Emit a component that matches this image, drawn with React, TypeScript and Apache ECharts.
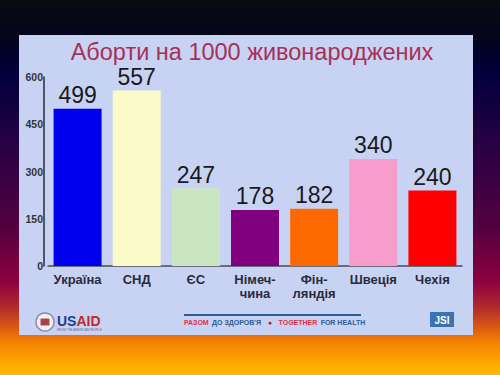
import React, { useEffect, useRef } from "react";
import * as echarts from "echarts";

const categories = ["Україна", "СНД", "ЄС", "Німеч-\nчина", "Фін-\nляндія", "Швеція", "Чехія"];
const values = [499, 557, 247, 178, 182, 340, 240];
const barColors = ["#0000ee", "#fbfbc9", "#c9e6c1", "#800080", "#ff6a00", "#f89ccb", "#ff0000"];
const titleText = "Аборти на 1000 живонароджених";
const yTicks = { min: 0, max: 600, interval: 150 };

const FONT = "Liberation Sans, Arial, sans-serif";

export default function App() {
  const ref = useRef<HTMLDivElement>(null);
  useEffect(() => {
    if (!ref.current) return;
    const chart = echarts.init(ref.current, null, { renderer: "svg" });
    const option: any = {
      animation: false,
      textStyle: { fontFamily: FONT },
      graphic: [
        {
          type: "rect",
          z: -20,
          silent: true,
          shape: { x: 0, y: 0, width: 500, height: 375 },
          style: {
            fill: new echarts.graphic.LinearGradient(0, 0, 0, 1, [
              { offset: 0, color: "#0a0a12" },
              { offset: 0.1, color: "#04041c" },
              { offset: 0.19, color: "#00003c" },
              { offset: 0.4, color: "#2a0044" },
              { offset: 0.6, color: "#52003f" },
              { offset: 0.75, color: "#8c0040" },
              { offset: 0.82, color: "#b02a2c" },
              { offset: 0.88, color: "#e06010" },
              { offset: 0.92, color: "#f88800" },
              { offset: 1, color: "#ffbc00" },
            ]),
          },
        },
        {
          type: "rect",
          z: -19,
          silent: true,
          shape: { x: 19, y: 35, width: 454, height: 300 },
          style: { fill: "#c8d3f3" },
        },
        {
          type: "text",
          z: 10,
          x: 252,
          y: 52,
          style: {
            text: titleText,
            fill: "#a83058",
            font: `23.5px ${FONT}`,
            align: "center",
            verticalAlign: "middle",
          },
        },
        // USAID logo
        {
          type: "circle",
          z: 10,
          shape: { cx: 45, cy: 322, r: 9 },
          style: { fill: "#eef0f6", stroke: "#8a8aa0", lineWidth: 1.5 },
        },
        {
          type: "rect",
          z: 11,
          shape: { x: 40, y: 318, width: 10, height: 8 },
          style: { fill: "#b04048", stroke: "#ffffff", lineWidth: 1 },
        },
        {
          type: "text",
          z: 10,
          x: 57,
          y: 321,
          style: {
            text: "{a|US}{b|AID}",
            verticalAlign: "middle",
            rich: {
              a: { fill: "#1c3c96", font: `bold 14px ${FONT}` },
              b: { fill: "#c0282d", font: `bold 14px ${FONT}` },
            },
          },
        },
        {
          type: "text",
          z: 10,
          x: 57,
          y: 330,
          style: {
            text: "FROM THE AMERICAN PEOPLE",
            fill: "#6a6a8a",
            font: `3px ${FONT}`,
            verticalAlign: "middle",
          },
        },
        // middle strip
        {
          type: "line",
          z: 10,
          shape: { x1: 184, y1: 315, x2: 361, y2: 315 },
          style: { stroke: "#2b5d9a", lineWidth: 2 },
        },
        {
          type: "text",
          z: 10,
          x: 184,
          y: 322,
          style: {
            text: "{r|РАЗОМ} {b|ДО ЗДОРОВ'Я}  {i|●}  {r|TOGETHER} {b|FOR HEALTH}",
            verticalAlign: "middle",
            rich: {
              r: { fill: "#e0304a", font: `bold 7px ${FONT}` },
              b: { fill: "#2b5d9a", font: `bold 7px ${FONT}` },
              i: { fill: "#b02040", font: `bold 7px ${FONT}` },
            },
          },
        },
        // JSI
        {
          type: "rect",
          z: 10,
          shape: { x: 430, y: 312, width: 24, height: 15 },
          style: { fill: "#3a72b2" },
        },
        {
          type: "text",
          z: 11,
          x: 442,
          y: 320,
          style: {
            text: "JSI",
            fill: "#ffffff",
            font: `bold 10px ${FONT}`,
            align: "center",
            verticalAlign: "middle",
          },
        },
      ],
      grid: { left: 48, right: 38, top: 77, bottom: 109 },
      xAxis: {
        type: "category",
        data: categories,
        axisLine: { lineStyle: { color: "#4a4a5a", width: 1.5 } },
        axisTick: { show: false },
        axisLabel: {
          interval: 0,
          margin: 6,
          color: "#2a2a3a",
          fontWeight: "bold",
          fontSize: 13,
          lineHeight: 14,
          fontFamily: FONT,
        },
      },
      yAxis: {
        type: "value",
        min: yTicks.min,
        max: yTicks.max,
        interval: yTicks.interval,
        offset: 4,
        axisLine: { show: true, lineStyle: { color: "#2a2a3a", width: 1.5 } },
        axisTick: { show: false },
        splitLine: { show: false },
        axisLabel: {
          margin: 1,
          color: "#333340",
          fontSize: 10.5,
          fontWeight: "bold",
          fontFamily: FONT,
        },
      },
      series: [
        {
          type: "bar",
          barWidth: 48,
          data: values.map((v, i) => ({
            value: v,
            itemStyle: { color: barColors[i] },
          })),
          label: {
            show: true,
            position: "top",
            distance: 2,
            color: "#1a1a1a",
            fontSize: 23,
            fontFamily: FONT,
          },
        },
      ],
    };
    chart.setOption(option);
    return () => chart.dispose();
  }, []);
  return (
    <div
      ref={ref}
      style={{ position: "absolute", left: 0, top: 0, width: 500, height: 375 }}
    />
  );
}
